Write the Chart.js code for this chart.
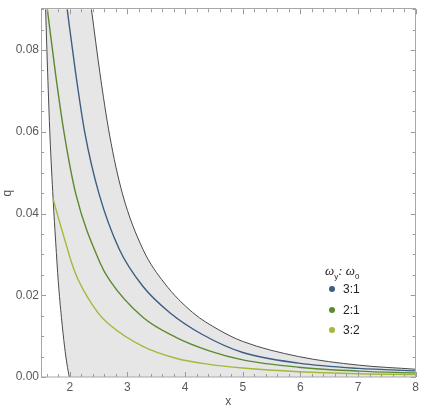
<!DOCTYPE html>
<html>
<head>
<meta charset="utf-8">
<script src="https://cdn.jsdelivr.net/npm/chart.js@4.4.1/dist/chart.umd.min.js"></script>
<style>
  html, body { margin: 0; padding: 0; background: #fff; }
  #wrap { position: relative; width: 422px; height: 409px; }
  #legend { position: absolute; left: 325px; top: 263px; font-family: "Liberation Sans", Arial, sans-serif; color: #222; }
  #legend .title { font-size: 13px; font-style: italic; font-family: "Liberation Serif", serif; height: 19px; line-height: 16px; }
  #legend .title sub { font-size: 8px; font-style: normal; font-family: "Liberation Sans", Arial, sans-serif; }
  #legend .item { position: relative; height: 20.6px; font-size: 12px; line-height: 14px; padding-left: 18px; }
  #legend .dot { position: absolute; left: 4px; top: 4px; width: 6px; height: 6px; border-radius: 50%; }
</style>
</head>
<body>
<div id="wrap">
  <canvas id="chart" width="422" height="409"></canvas>
  <div id="legend"></div>
</div>
<script>
// Datos
const xTicks = [2, 3, 4, 5, 6, 7, 8];
const yTicks = [0, 0.02, 0.04, 0.06, 0.08];

// límites de la región sombreada
const leftX = [1.58, 1.615, 1.655, 1.71, 1.755, 1.80, 1.855, 1.91, 1.95, 1.99];
const leftQ = [0.09, 0.0746, 0.0592, 0.0436, 0.033, 0.0233, 0.0145, 0.0073, 0.0032, 0];
const rightX = [2.375, 2.52, 2.69, 2.91, 3.27, 3.64, 4.13, 4.59, 5.0, 5.97, 7.01, 8];
const rightQ = [0.09, 0.0746, 0.0592, 0.045, 0.0312, 0.023, 0.0158, 0.0115, 0.0087, 0.0050, 0.0029, 0.0019];

// curvas por relación de frecuencias
const seriesNames = ['3:1', '2:1', '3:2'];
const seriesColors = ['#3d5d82', '#5b8a30', '#a4b83b'];
const x31 = [1.954, 2.099, 2.26, 2.507, 2.86, 3.267, 3.73, 4.30, 5.0, 5.97, 7.01, 8];
const q31 = [0.09, 0.0746, 0.0598, 0.0448, 0.0312, 0.0222, 0.0158, 0.0104, 0.0060, 0.0034, 0.0021, 0.0015];
const x21 = [1.61, 1.754, 1.90, 2.104, 2.52, 2.69, 3.267, 3.84, 4.42, 5.0, 5.97, 7.01, 8];
const q21 = [0.09, 0.0740, 0.0598, 0.0448, 0.0281, 0.0237, 0.0146, 0.0097, 0.0064, 0.0042, 0.0024, 0.00145, 0.0010];
const x32 = [1.71, 1.80, 1.97, 2.03, 2.145, 2.49, 2.69, 3.267, 3.84, 4.42, 5.0, 5.97, 7.01, 8];
const q32 = [0.0436, 0.0390, 0.0308, 0.0280, 0.0238, 0.0157, 0.0128, 0.0075, 0.0046, 0.0031, 0.0022, 0.0013, 0.0008, 0.0006];

const X_MIN = 1.5, X_MAX = 8, Y_MIN = 0, Y_MAX = 0.09;

function toPts(xs, qs) {
    return xs.map((x, i) => ({ x: x, y: qs[i] }));
}

const leftPts = toPts(leftX, leftQ);
const rightPts = toPts(rightX, rightQ);
// relleno gris: bajo el borde derecho, desde arriba del área (se recorta)
const above = Y_MAX * 1.1;
const grayPts = [{ x: leftX[0], y: above }, { x: rightX[0] - 0.095, y: above }].concat(rightPts);

const lineBase = { pointRadius: 0, cubicInterpolationMode: 'monotone' };

// Chart.js pinta el primer dataset encima: curvas primero, rellenos al final
const datasets = [];
[[x31, q31], [x21, q21], [x32, q32]].forEach((s, i) => {
    datasets.push(Object.assign({
        label: seriesNames[i],
        data: toPts(s[0], s[1]),
        borderColor: seriesColors[i],
        borderWidth: 1.4,
        fill: false
    }, lineBase));
});
// borde izquierdo: tapa en blanco lo que queda por debajo
datasets.push(Object.assign({ label: 'left', data: leftPts, borderColor: '#4a4a4a', borderWidth: 1,
    fill: 'start', backgroundColor: '#ffffff' }, lineBase));
datasets.push(Object.assign({ label: 'right', data: rightPts, borderColor: '#4a4a4a', borderWidth: 1,
    fill: false }, lineBase));
datasets.push(Object.assign({ label: 'region', data: grayPts, borderWidth: 0, borderColor: 'rgba(0,0,0,0)',
    fill: 'origin', backgroundColor: '#e6e6e6' }, lineBase));

// marco con marcas hacia dentro, como en el original
const frameTicks = {
    id: 'frameTicks',
    afterDatasetsDraw(chart) {
        const ctx = chart.ctx;
        const a = chart.chartArea;
        const xs = chart.scales.x, ys = chart.scales.y;
        ctx.save();
        ctx.strokeStyle = '#9a9a9a';
        ctx.lineWidth = 1;
        ctx.beginPath();
        // menores en x cada 0.2, en y cada 0.005
        for (let v = 1.6; v <= X_MAX + 1e-9; v += 0.2) {
            const px = Math.round(xs.getPixelForValue(v)) + 0.5;
            const major = Math.abs(v - Math.round(v)) < 1e-6;
            const len = major ? 5 : 3;
            ctx.moveTo(px, a.bottom); ctx.lineTo(px, a.bottom - len);
            ctx.moveTo(px, a.top); ctx.lineTo(px, a.top + len);
        }
        for (let k = 0; k <= 18; k++) {
            const v = k * 0.005;
            const py = Math.round(ys.getPixelForValue(v)) + 0.5;
            const len = (k % 4 === 0) ? 5 : 3;
            ctx.moveTo(a.left, py); ctx.lineTo(a.left + len, py);
            ctx.moveTo(a.right, py); ctx.lineTo(a.right - len, py);
        }
        ctx.stroke();
        ctx.strokeStyle = '#a8a8a8';
        ctx.strokeRect(Math.round(a.left) + 0.5, Math.round(a.top) - 0.5,
            Math.round(a.right - a.left) - 1, Math.round(a.bottom - a.top) + 0.5);
        ctx.restore();
    }
};

const tickFont = { family: '"Liberation Sans", Arial, sans-serif', size: 12 };

new Chart(document.getElementById('chart'), {
    type: 'line',
    data: { datasets: datasets },
    options: {
        responsive: false,
        animation: false,
        layout: { padding: { top: 1, right: 4, bottom: 0, left: 0 } },
        plugins: { legend: { display: false }, tooltip: { enabled: false } },
        scales: {
            x: {
                type: 'linear', min: X_MIN, max: X_MAX,
                afterBuildTicks: s => { s.ticks = xTicks.map(v => ({ value: v })); },
                afterFit: s => { s.height = 32; },
                grid: { display: false, drawTicks: false },
                border: { display: false },
                ticks: { color: '#5a5a5a', font: tickFont, padding: 3, maxRotation: 0 },
                title: { display: true, text: 'x', color: '#555', font: tickFont, padding: { top: 0, bottom: 0 } }
            },
            y: {
                type: 'linear', min: Y_MIN, max: Y_MAX,
                afterBuildTicks: s => { s.ticks = yTicks.map(v => ({ value: v })); },
                afterFit: s => { s.width = 41; },
                grid: { display: false, drawTicks: false },
                border: { display: false },
                ticks: { color: '#5a5a5a', font: tickFont, padding: 2, callback: v => Number(v).toFixed(2) },
                title: { display: true, text: 'q', color: '#555', font: tickFont, padding: { top: 0, bottom: 0 } }
            }
        }
    },
    plugins: [frameTicks]
});

// leyenda
const legend = document.getElementById('legend');
let html = '<div class="title">ω<sub>y</sub>: ω<sub>0</sub></div>';
seriesNames.forEach((n, i) => {
    html += '<div class="item"><span class="dot" style="background:' + seriesColors[i] + '"></span>' + n + '</div>';
});
legend.innerHTML = html;
</script>
</body>
</html>
